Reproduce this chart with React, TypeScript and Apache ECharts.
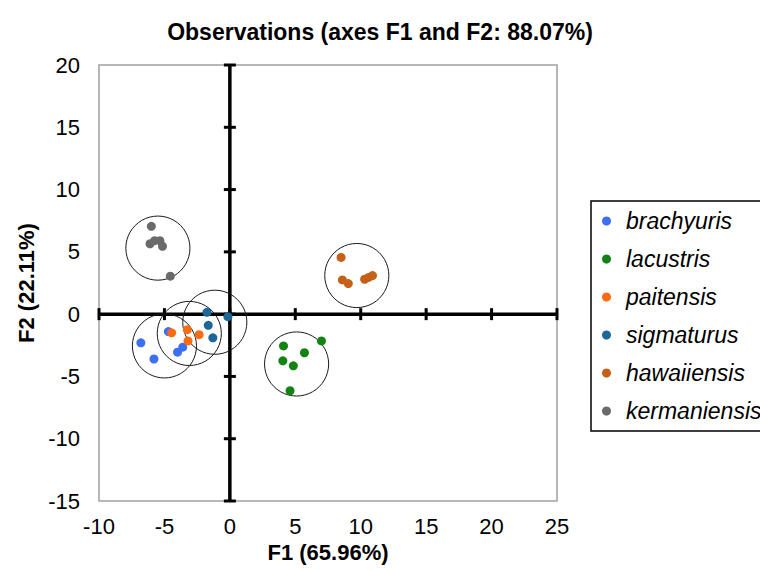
import React, { useEffect, useRef } from "react";
import * as echarts from "echarts";

// ---- data ----
const speciesNames = ["brachyuris", "lacustris", "paitensis", "sigmaturus", "hawaiiensis", "kermaniensis"];
const speciesColors = ["#3d6ff2", "#138413", "#fb6b16", "#1a6798", "#c65f17", "#6a6a6a"];

const brachyuris = [[-6.8, -2.3], [-5.8, -3.6], [-4.7, -1.4], [-4.0, -3.05], [-3.6, -2.65]];
const lacustris = [[4.1, -2.55], [5.7, -3.1], [4.05, -3.75], [4.85, -4.15], [7.0, -2.15], [4.6, -6.15]];
const paitensis = [[-4.45, -1.5], [-3.25, -1.25], [-3.2, -2.15], [-2.35, -1.65]];
const sigmaturus = [[-1.75, 0.15], [-0.15, -0.2], [-1.65, -0.9], [-1.3, -1.9]];
const hawaiiensis = [[8.5, 4.55], [8.6, 2.75], [9.05, 2.45], [10.3, 2.8], [10.6, 2.95], [10.9, 3.1]];
const kermaniensis = [[-6.0, 7.05], [-6.1, 5.65], [-5.75, 5.9], [-5.35, 5.9], [-5.15, 5.45], [-4.55, 3.05]];

// group circles: [centerX, centerY, radius (F1 units)]
const groupCircles = [
  [-5.0, -2.55, 2.45],
  [-3.1, -1.55, 2.45],
  [-1.15, -0.65, 2.45],
  [5.1, -4.0, 2.45],
  [9.7, 3.1, 2.45],
  [-5.5, 5.3, 2.45],
];

const xTicks = [-10, -5, 0, 5, 10, 15, 20, 25];
const yTicks = [-15, -10, -5, 0, 5, 10, 15, 20];

const titleText = "Observations (axes F1 and F2: 88.07%)";
const xName = "F1 (65.96%)";
const yName = "F2 (22.11%)";

const FONT = "'Liberation Sans', Arial, sans-serif";

export default function App() {
  const ref = useRef<HTMLDivElement>(null);

  useEffect(() => {
    if (!ref.current) return;
    const chart = echarts.init(ref.current, undefined, { renderer: "svg" });
    const seriesData = [brachyuris, lacustris, paitensis, sigmaturus, hawaiiensis, kermaniensis];

    const scatterSeries = speciesNames.map((name, i) => ({
      name,
      type: "scatter",
      data: seriesData[i],
      symbol: "circle",
      symbolSize: 9,
      itemStyle: { color: speciesColors[i], opacity: 1 },
      z: 5,
    }));

    const option: any = {
      animation: false,
      backgroundColor: "#ffffff",
      title: {
        text: titleText,
        left: "center",
        top: 15,
        textStyle: { fontFamily: FONT, fontSize: 23, fontWeight: "bold", color: "#000" },
      },
      grid: {
        left: 99,
        top: 65,
        right: 203,
        bottom: 70,
        show: true,
        borderColor: "#a0a0a0",
        borderWidth: 1.5,
        backgroundColor: "transparent",
      },
      legend: {
        orient: "vertical",
        left: 591,
        top: 201,
        data: speciesNames,
        icon: "circle",
        itemWidth: 9,
        itemHeight: 9,
        itemGap: 14,
        padding: [8, 60, 8, 11],
        borderColor: "#000",
        borderWidth: 1.5,
        textStyle: {
          fontFamily: FONT,
          fontSize: 23,
          fontStyle: "italic",
          color: "#000",
          lineHeight: 24,
          padding: [0, 0, 0, 10],
        },
      },
      xAxis: {
        type: "value",
        min: -10,
        max: 25,
        interval: 5,
        name: xName,
        nameLocation: "middle",
        nameGap: 39,
        nameTextStyle: { fontFamily: FONT, fontSize: 22, fontWeight: "bold", color: "#000" },
        axisLine: { show: false, onZero: false },
        axisTick: { show: false },
        splitLine: { show: false },
        axisLabel: { fontFamily: FONT, fontSize: 22, color: "#000", margin: 14 },
      },
      yAxis: {
        type: "value",
        min: -15,
        max: 20,
        interval: 5,
        name: yName,
        nameLocation: "middle",
        nameGap: 55,
        nameTextStyle: { fontFamily: FONT, fontSize: 22, fontWeight: "bold", color: "#000" },
        axisLine: { show: false, onZero: false },
        axisTick: { show: false },
        splitLine: { show: false },
        axisLabel: { fontFamily: FONT, fontSize: 22, color: "#000", margin: 19 },
      },
      series: [
        {
          type: "line",
          data: [[xTicks[0], 0], [xTicks[xTicks.length - 1], 0]],
          symbol: "none",
          silent: true,
          lineStyle: { color: "#000", width: 3.5 },
          z: 2,
        },
        {
          type: "line",
          data: [[0, yTicks[0]], [0, yTicks[yTicks.length - 1]]],
          symbol: "none",
          silent: true,
          lineStyle: { color: "#000", width: 3.5 },
          z: 2,
        },
        {
          type: "custom",
          silent: true,
          data: xTicks.map((v) => [v, 0]),
          renderItem: (params: any, api: any) => {
            const p = api.coord([api.value(0), api.value(1)]);
            return {
              type: "line",
              shape: { x1: p[0], y1: p[1] - 6, x2: p[0], y2: p[1] + 6 },
              style: { stroke: "#000", lineWidth: 3 },
            };
          },
          z: 2,
        },
        {
          type: "custom",
          silent: true,
          data: yTicks.map((v) => [0, v]),
          renderItem: (params: any, api: any) => {
            const p = api.coord([api.value(0), api.value(1)]);
            return {
              type: "line",
              shape: { x1: p[0] - 6, y1: p[1], x2: p[0] + 6, y2: p[1] },
              style: { stroke: "#000", lineWidth: 3 },
            };
          },
          z: 2,
        },
        {
          type: "custom",
          silent: true,
          data: groupCircles,
          renderItem: (params: any, api: any) => {
            const c = api.coord([api.value(0), api.value(1)]);
            const r = api.size([api.value(2), 0])[0];
            return {
              type: "circle",
              shape: { cx: c[0], cy: c[1], r },
              style: { fill: "none", stroke: "#1a1a1a", lineWidth: 1 },
            };
          },
          z: 3,
        },
        ...scatterSeries,
      ],
    };
    chart.setOption(option);
    return () => chart.dispose();
  }, []);

  return (
    <div
      ref={ref}
      style={{ position: "fixed", left: 0, top: 0, width: 760, height: 571, background: "#fff" }}
    />
  );
}
